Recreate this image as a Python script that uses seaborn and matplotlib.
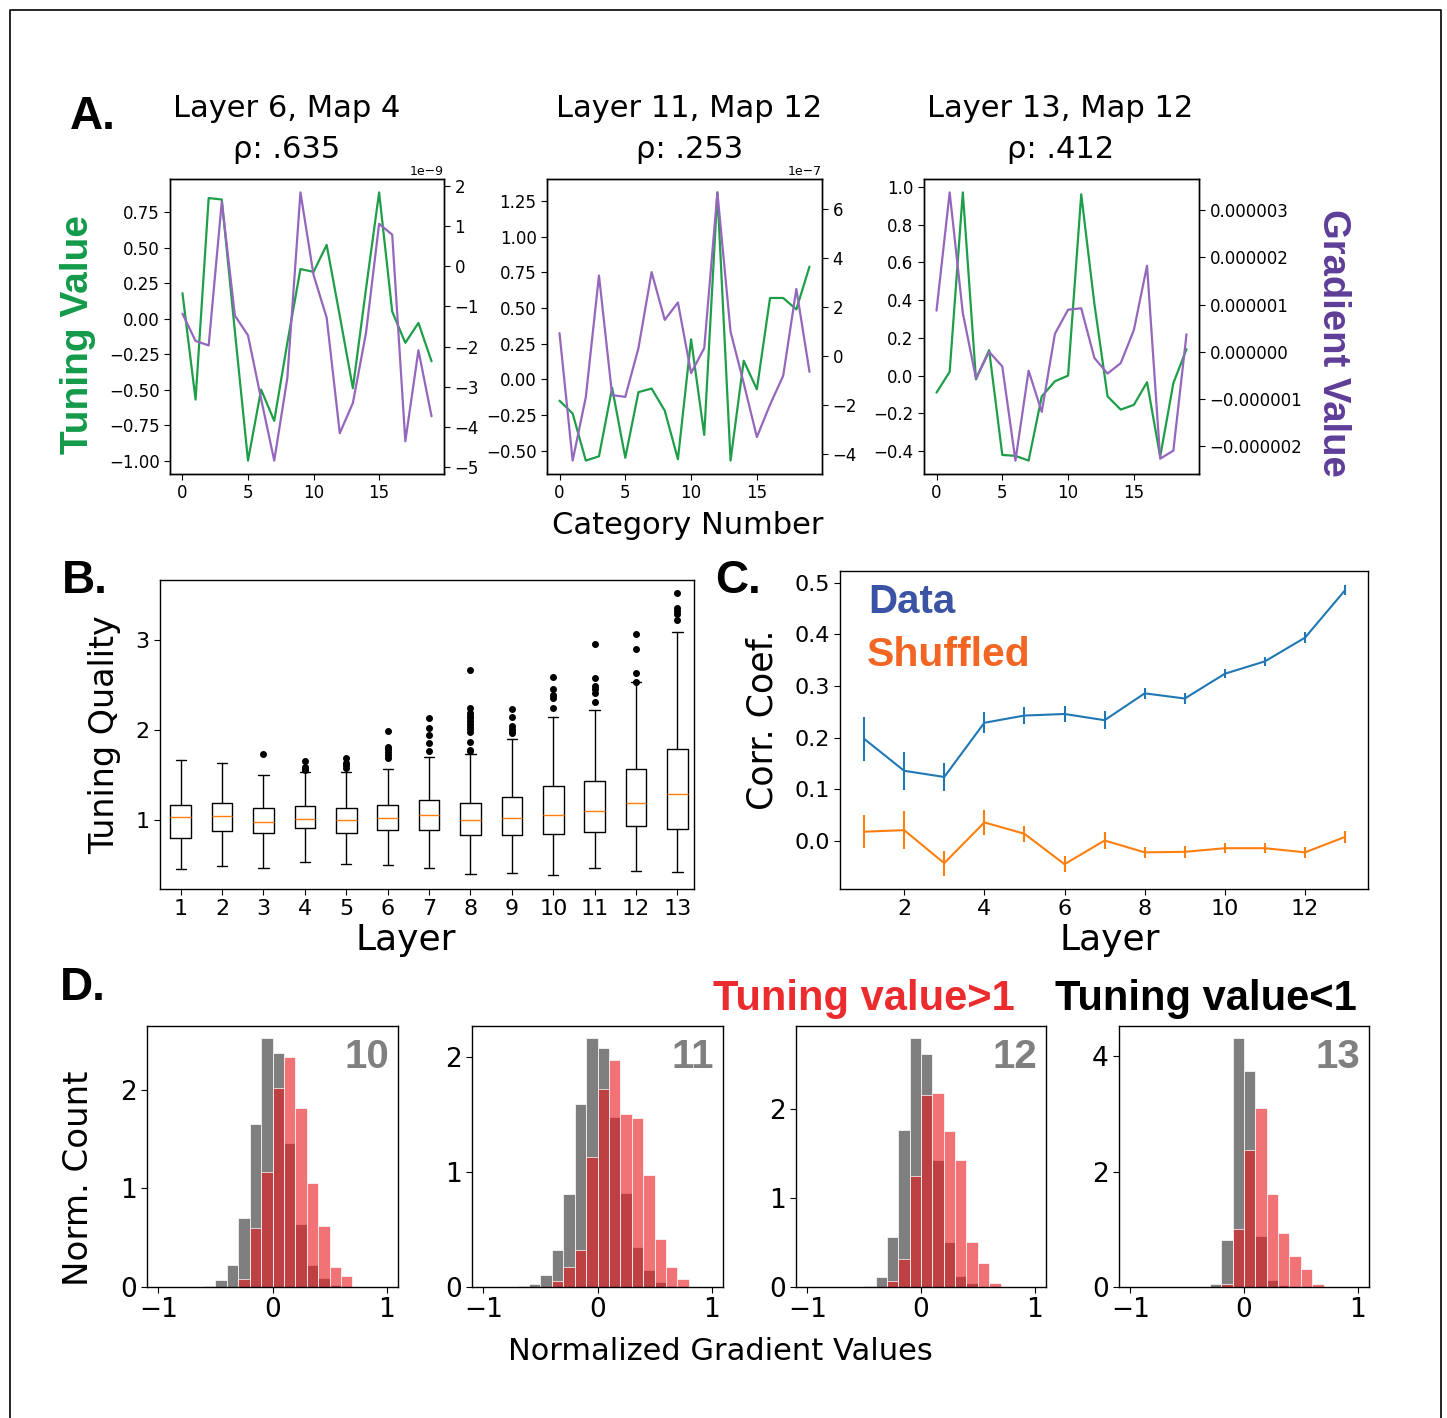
import numpy as np
import pandas as pd
import matplotlib
matplotlib.use('Agg')
import matplotlib.pyplot as plt
import seaborn as sns
from matplotlib.lines import Line2D
from matplotlib.ticker import MultipleLocator

# ---------------- DATA ----------------
categories = list(range(20))

tune_l6 = [0.18, -0.57, 0.85, 0.84, -0.09, -1.00, -0.50, -0.72, -0.17, 0.35,
           0.33, 0.52, 0.02, -0.49, 0.21, 0.89, 0.05, -0.17, -0.03, -0.30]
grad_l6 = [-1.18, -1.86, -1.97, 1.60, -1.23, -1.72, -3.30, -4.83, -2.78, 1.83,
           -0.22, -1.28, -4.15, -3.40, -1.66, 1.05, 0.78, -4.35, -2.09, -3.73]  # x1e-9

tune_l11 = [-0.15, -0.24, -0.57, -0.54, -0.06, -0.55, -0.09, -0.065, -0.22, -0.56,
            0.28, -0.39, 1.31, -0.57, 0.13, -0.07, 0.57, 0.57, 0.49, 0.79]
grad_l11 = [0.94, -4.26, -1.67, 3.29, -1.59, -1.66, 0.33, 3.43, 1.48, 2.19,
            -0.69, 0.33, 6.68, 1.00, -1.10, -3.30, -1.98, -0.80, 2.74, -0.64]  # x1e-7

tune_l13 = [-0.09, 0.02, 0.97, -0.02, 0.135, -0.42, -0.425, -0.45, -0.11, -0.03,
            0.00, 0.96, 0.38, -0.11, -0.18, -0.155, -0.035, -0.43, -0.04, 0.14]
grad_l13 = [0.87, 3.37, 0.82, -0.56, 0.00, -0.31, -2.30, -0.40, -1.27, 0.38,
            0.89, 0.92, -0.13, -0.46, -0.24, 0.46, 1.82, -2.26, -2.09, 0.37]  # x1e-6

panel_a_titles = ["Layer 6, Map 4\nρ: .635", "Layer 11, Map 12\nρ: .253", "Layer 13, Map 12\nρ: .412"]
grad_scales = [1e-9, 1e-7, 1e-6]
tune_tick_steps = [0.25, 0.25, 0.2]

layers = list(range(1, 14))
box_med = [1.037, 1.04, 0.974, 1.011, 1.0, 1.022, 1.056, 1.004, 1.022, 1.052, 1.10, 1.185, 1.293]
box_q1 = [0.80, 0.88, 0.852, 0.907, 0.852, 0.893, 0.893, 0.833, 0.833, 0.841, 0.87, 0.93, 0.90]
box_q3 = [1.167, 1.193, 1.137, 1.16, 1.13, 1.167, 1.226, 1.193, 1.256, 1.378, 1.433, 1.57, 1.785]
box_whislo = [0.459, 0.49, 0.467, 0.533, 0.511, 0.504, 0.47, 0.396, 0.415, 0.385, 0.467, 0.433, 0.422]
box_whishi = [1.667, 1.637, 1.50, 1.53, 1.537, 1.57, 1.704, 1.737, 1.896, 2.148, 2.226, 2.53, 3.093]
box_fliers = [
    [],
    [],
    [1.733],
    [1.656, 1.59, 1.57, 1.55],
    [1.685, 1.637, 1.611, 1.58],
    [1.989, 1.807, 1.785, 1.752, 1.72, 1.693],
    [2.133, 2.019, 1.94, 1.852, 1.763],
    [2.67, 2.248, 2.185, 2.156, 2.13, 2.10, 2.07, 2.037, 2.007, 1.98, 1.863, 1.78, 1.763],
    [2.23, 2.144, 2.044, 2.015, 1.989, 1.97],
    [2.589, 2.459, 2.389, 2.36, 2.244],
    [2.952, 2.581, 2.485, 2.452, 2.415, 2.311],
    [3.07, 2.90, 2.633, 2.537],
    [3.522, 3.356, 3.322, 3.289, 3.219],
]

corr_data = [0.198, 0.136, 0.124, 0.229, 0.243, 0.246, 0.234, 0.286, 0.276, 0.324, 0.348, 0.394, 0.486]
corr_data_err = [0.043, 0.037, 0.027, 0.020, 0.016, 0.016, 0.017, 0.011, 0.010, 0.009, 0.009, 0.010, 0.010]
corr_shuf = [0.018, 0.021, -0.043, 0.036, 0.014, -0.045, 0.001, -0.022, -0.021, -0.014, -0.014, -0.022, 0.008]
corr_shuf_err = [0.032, 0.037, 0.024, 0.024, 0.016, 0.015, 0.016, 0.010, 0.011, 0.010, 0.010, 0.010, 0.011]

hist_layers = [10, 11, 12, 13]
bin_edges = [round(-1.0 + 0.1 * k, 2) for k in range(21)]
grey10 = [0, 0, 0, 0, 0.007, 0.075, 0.22, 0.695, 1.65, 2.52, 2.37, 1.46, 0.64, 0.22, 0.09, 0.02, 0, 0, 0, 0]
red10 = [0, 0, 0, 0, 0, 0, 0, 0.085, 0.60, 1.17, 2.02, 2.33, 1.81, 1.05, 0.62, 0.20, 0.11, 0, 0, 0]
grey11 = [0, 0, 0, 0.006, 0.023, 0.10, 0.32, 0.81, 1.59, 2.16, 2.08, 1.48, 0.82, 0.35, 0.145, 0.044, 0.01, 0, 0, 0]
red11 = [0, 0, 0, 0, 0, 0, 0.05, 0.17, 0.32, 1.13, 1.72, 1.97, 1.50, 1.47, 0.97, 0.42, 0.17, 0.07, 0, 0]
grey12 = [0, 0, 0, 0, 0, 0.008, 0.11, 0.56, 1.77, 2.80, 2.62, 1.43, 0.51, 0.12, 0.04, 0, 0, 0, 0, 0]
red12 = [0, 0, 0, 0, 0, 0, 0, 0.064, 0.31, 1.25, 2.16, 2.18, 1.76, 1.43, 0.51, 0.27, 0.04, 0, 0, 0]
grey13 = [0, 0, 0, 0, 0, 0, 0, 0.046, 0.82, 4.31, 3.74, 0.88, 0.12, 0.03, 0, 0, 0, 0, 0, 0]
red13 = [0, 0, 0, 0, 0, 0, 0, 0, 0.046, 1.00, 2.38, 3.11, 1.61, 0.94, 0.53, 0.31, 0.046, 0, 0, 0]

# ---------------- STYLE ----------------
sns.set_style('ticks', rc={'axes.edgecolor': 'black', 'xtick.color': 'black', 'ytick.color': 'black',
                           'text.color': 'black', 'axes.labelcolor': 'black'})
plt.rcParams['font.family'] = ['DejaVu Sans']
plt.rcParams['axes.linewidth'] = 1.0
plt.rcParams['xtick.major.size'] = 4
plt.rcParams['ytick.major.size'] = 4

W, H = 1447, 1418
fig = plt.figure(figsize=(W / 100, H / 100), dpi=100)


def rect(x0, y0, x1, y1):
    return [x0 / W, 1 - y1 / H, (x1 - x0) / W, (y1 - y0) / H]


def fx(px):
    return px / W


def fy(py):
    return 1 - py / H


BOLD = ['Liberation Sans', 'DejaVu Sans']
GREEN_LINE = '#1f9e4a'
PURPLE_LINE = '#9467bd'

# ---------------- PANEL A ----------------
a_rects = [rect(170, 179, 444, 474), rect(547, 179, 822, 474), rect(924, 179, 1199, 474)]
title_x = [0.427, 0.517, 0.495]
tunes = [tune_l6, tune_l11, tune_l13]
grads = [grad_l6, grad_l11, grad_l13]
for i in range(3):
    ax = fig.add_axes(a_rects[i])
    sns.lineplot(x=categories, y=tunes[i], ax=ax, color=GREEN_LINE, lw=1.6)
    ax2 = ax.twinx()
    gvals = [g * grad_scales[i] for g in grads[i]]
    sns.lineplot(x=categories, y=gvals, ax=ax2, color=PURPLE_LINE, lw=1.6)
    ax.set_xlim(-0.95, 19.95)
    ax.set_xticks([0, 5, 10, 15])
    ax.yaxis.set_major_locator(MultipleLocator(tune_tick_steps[i]))
    ax.tick_params(labelsize=12)
    ax2.tick_params(labelsize=12)
    ax2.yaxis.get_offset_text().set_fontsize(9)
    if i == 2:
        ax2.ticklabel_format(axis='y', style='plain', useOffset=False)
    ax.set_title(panel_a_titles[i], fontsize=22, linespacing=1.55, pad=15, y=1.0, x=title_x[i])
    for a in (ax, ax2):
        a.set_xlabel('')
        a.set_ylabel('')

fig.text(fx(70), fy(129), 'A.', fontsize=33, fontweight='bold', family=BOLD, ha='left', va='baseline')
fig.text(fx(78), fy(335), 'Tuning Value', fontsize=28, fontweight='bold', family=BOLD,
         color='#139a4a', rotation=90, ha='center', va='center')
fig.text(fx(1333), fy(343), 'Gradient Value', fontsize=27.5, fontweight='bold', family=BOLD,
         color='#5f3d98', rotation=-90, ha='center', va='center')
fig.text(fx(688), fy(525), 'Category Number', fontsize=22, ha='center', va='center')

# ---------------- PANEL B ----------------
axb = fig.add_axes(rect(160, 580, 694, 889))
stats = []
for k in range(len(layers)):
    stats.append(dict(med=box_med[k], q1=box_q1[k], q3=box_q3[k], whislo=box_whislo[k],
                      whishi=box_whishi[k], fliers=np.array(box_fliers[k])))
axb.bxp(stats, positions=layers, widths=0.5, showfliers=True,
        boxprops=dict(color='black', lw=1),
        whiskerprops=dict(color='black', lw=1),
        capprops=dict(color='black', lw=1),
        medianprops=dict(color='#ff7f0e', lw=1),
        flierprops=dict(marker='o', markerfacecolor='black', markeredgecolor='black', markersize=4))
axb.set_xlim(0.5, 13.4)
axb.set_ylim(0.233, 3.667)
axb.set_yticks([1, 2, 3])
axb.set_xticks(layers)
axb.set_xticklabels([str(l) for l in layers])
axb.tick_params(labelsize=16)
fig.text(fx(62), fy(593), 'B.', fontsize=33, fontweight='bold', family=BOLD, ha='left', va='baseline')
fig.text(fx(105), fy(735), 'Tuning Quality', fontsize=24, rotation=90, ha='center', va='center')
fig.text(fx(406), fy(940), 'Layer', fontsize=26, ha='center', va='center')

# ---------------- PANEL C ----------------
axc = fig.add_axes(rect(840, 571, 1368, 889))
sns.lineplot(x=layers, y=corr_data, ax=axc, color='#1f77b4', lw=1.5)
axc.errorbar(layers, corr_data, yerr=corr_data_err, fmt='none', ecolor='#1f77b4', elinewidth=1.5)
sns.lineplot(x=layers, y=corr_shuf, ax=axc, color='#ff7f0e', lw=1.5)
axc.errorbar(layers, corr_shuf, yerr=corr_shuf_err, fmt='none', ecolor='#ff7f0e', elinewidth=1.5)
axc.set_xlim(0.4, 13.57)
axc.set_ylim(-0.093, 0.523)
axc.set_xticks([2, 4, 6, 8, 10, 12])
axc.set_yticks([0.0, 0.1, 0.2, 0.3, 0.4, 0.5])
axc.tick_params(labelsize=16)
axc.set_xlabel('')
axc.set_ylabel('')
axc.text(0.053, 0.868, 'Data', transform=axc.transAxes, fontsize=29, fontweight='bold',
         family=BOLD, color='#3a53a4', ha='left', va='baseline')
axc.text(0.050, 0.700, 'Shuffled', transform=axc.transAxes, fontsize=29.5, fontweight='bold',
         family=BOLD, color='#f26522', ha='left', va='baseline')
fig.text(fx(715), fy(593), 'C.', fontsize=33, fontweight='bold', family=BOLD, ha='left', va='baseline')
fig.text(fx(762), fy(720), 'Corr. Coef.', fontsize=25, rotation=90, ha='center', va='center')
fig.text(fx(1110), fy(940), 'Layer', fontsize=26, ha='center', va='center')

# ---------------- PANEL D ----------------
d_rects = [rect(147, 1026, 398, 1287), rect(472, 1026, 723, 1287),
           rect(796, 1026, 1046, 1287), rect(1119, 1026, 1369, 1287)]
greys = [grey10, grey11, grey12, grey13]
reds = [red10, red11, red12, red13]
centers = [round(e + 0.05, 3) for e in bin_edges[:-1]]
for i in range(4):
    ax = fig.add_axes(d_rects[i])
    dfg = pd.DataFrame({'x': centers, 'w': greys[i]})
    dfr = pd.DataFrame({'x': centers, 'w': reds[i]})
    sns.histplot(data=dfg, x='x', weights='w', bins=bin_edges, ax=ax, color='#7f7f7f',
                 alpha=1.0, edgecolor='white', linewidth=0.5)
    sns.histplot(data=dfr, x='x', weights='w', bins=bin_edges, ax=ax, color='#e8161b',
                 alpha=0.6, edgecolor='white', linewidth=0.5)
    top = max(max(greys[i]), max(reds[i]))
    ax.set_ylim(0, top * 1.05)
    ax.set_xlim(-1.1, 1.1)
    ax.set_xticks([-1, 0, 1])
    if i == 3:
        ax.set_yticks([0, 2, 4])
    else:
        ax.set_yticks([0, 1, 2])
    ax.tick_params(labelsize=19)
    ax.set_xlabel('')
    ax.set_ylabel('')
    ax.text(0.965, 0.955, str(hist_layers[i]), transform=ax.transAxes, fontsize=29,
            fontweight='bold', family=BOLD, color='#808080', ha='right', va='top')

fig.text(fx(60), fy(1000), 'D.', fontsize=33, fontweight='bold', family=BOLD, ha='left', va='baseline')
fig.text(fx(713), fy(1010), 'Tuning value>1', fontsize=30, fontweight='bold', family=BOLD,
         color='#ec2b2f', ha='left', va='baseline')
fig.text(fx(1055), fy(1010), 'Tuning value<1', fontsize=30, fontweight='bold', family=BOLD,
         color='black', ha='left', va='baseline')
fig.text(fx(78), fy(1178), 'Norm. Count', fontsize=24.5, rotation=90, ha='center', va='center')
fig.text(fx(720), fy(1352), 'Normalized Gradient Values', fontsize=22, ha='center', va='center')

# figure frame
fig.add_artist(Line2D([fx(9.5), fx(9.5), fx(1440.5), fx(1440.5)],
                      [fy(1425), fy(9.5), fy(9.5), fy(1425)],
                      transform=fig.transFigure, color='black', lw=1.2))

fig.savefig('out.png', dpi=100)
